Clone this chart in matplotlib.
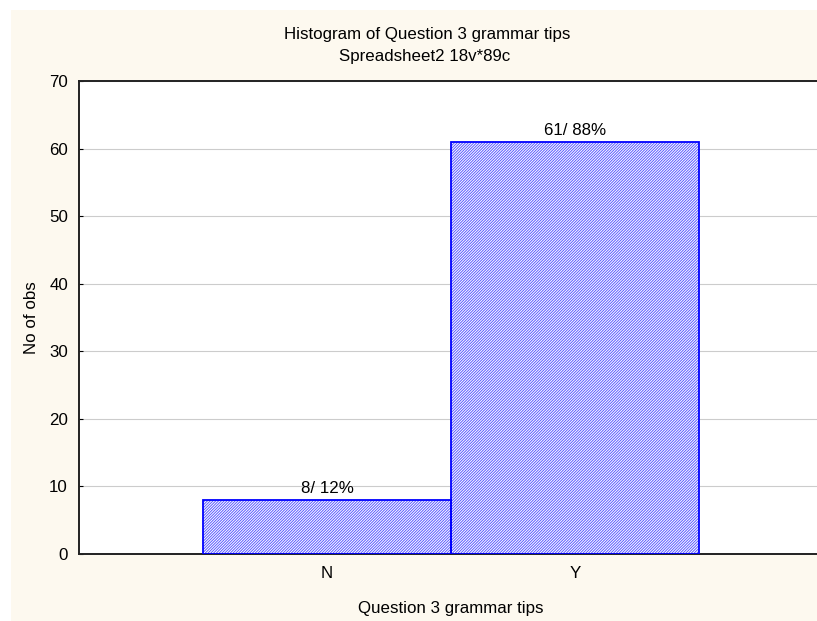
import matplotlib.pyplot as plt
from matplotlib.patches import Rectangle

plt.rcParams['font.family'] = ['Liberation Sans', 'DejaVu Sans']
plt.rcParams['hatch.linewidth'] = 0.7

categories = ['N', 'Y']
counts = [8, 61]
labels = ['8/ 12%', '61/ 88%']
yticks = [0, 10, 20, 30, 40, 50, 60, 70]

W, H = 817, 621
FS = 12.2
fig = plt.figure(figsize=(W / 100, H / 100), dpi=100)
fig.patch.set_facecolor('white')
# cream panel, leaves a thin white strip at top and left
fig.patches.append(Rectangle((11 / W, 0), 1, (H - 10) / H, transform=fig.transFigure,
                             facecolor='#fdf9ef', edgecolor='none', zorder=-1))

ax = fig.add_axes([79 / W, (H - 554) / H, (823 - 79) / W, (554 - 81) / H])
ax.set_zorder(1)
ax.set_facecolor('white')

x = range(len(categories))
# hatched fill in a lighter blue, then the solid blue outline on top
ax.bar(x, counts, width=1.0, color='white', edgecolor='#5a5aff', hatch='////////////',
       linewidth=0, zorder=2)
ax.bar(x, counts, width=1.0, fill=False, edgecolor='#0000ff', linewidth=1.3, zorder=3)

for xi, c, lab in zip(x, counts, labels):
    ax.text(xi, c + 0.6, lab, ha='center', va='bottom', fontsize=FS, zorder=4)

ax.set_xlim(-1, 2)
ax.set_ylim(0, 70)
ax.set_yticks(yticks)
ax.set_xticks(list(x))
ax.set_xticklabels(categories)
ax.yaxis.grid(True, color='#cccccc', linewidth=0.8)
ax.set_axisbelow(True)
ax.tick_params(axis='y', direction='in', length=3, labelsize=FS, pad=8)
ax.tick_params(axis='x', direction='in', length=3, labelsize=FS, pad=9)
for s in ax.spines.values():
    s.set_color('#222222')
    s.set_linewidth(1.4)

ax.set_xlabel('Question 3 grammar tips', fontsize=FS, labelpad=14)
ax.set_ylabel('No of obs', fontsize=FS, labelpad=7)

fig.text(427 / W, 1 - 34 / H, 'Histogram of Question 3 grammar tips',
         ha='center', va='center', fontsize=FS)
fig.text(425 / W, 1 - 57 / H, 'Spreadsheet2 18v*89c',
         ha='center', va='center', fontsize=FS)

fig.savefig('out.png', dpi=100, facecolor=fig.get_facecolor())
